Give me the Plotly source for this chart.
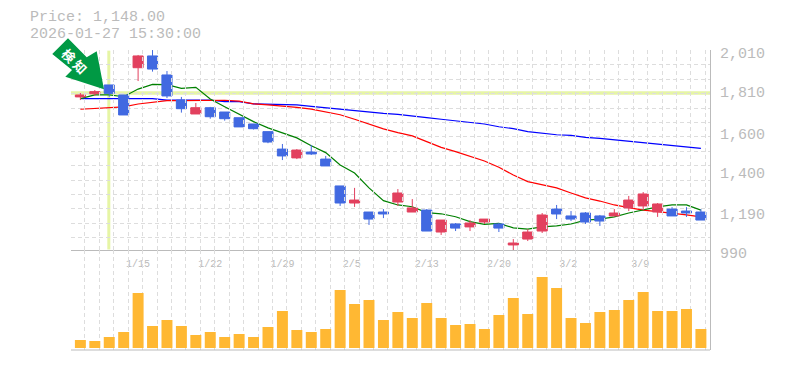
import plotly.graph_objects as go

idx = list(range(44))
opens = [1786,1802,1847,1796,1935,1995,1898,1770,1699,1731,1709,1680,1648,1609,1520,1475,1505,1469,1332,1245,1199,1199,1250,1199,1209,1097,1138,1123,1148,1138,1031,1061,1102,1214,1179,1194,1179,1179,1220,1230,1199,1214,1204,1199]
highs = [1806,1821,1847,1796,2000,2025,1918,1786,1755,1735,1709,1680,1648,1609,1546,1520,1541,1485,1332,1322,1199,1214,1316,1265,1214,1158,1143,1158,1163,1143,1061,1112,1194,1235,1204,1199,1184,1214,1281,1301,1245,1224,1224,1214]
lows = [1770,1791,1787,1694,1867,1915,1780,1706,1699,1675,1665,1633,1620,1550,1464,1469,1490,1434,1230,1225,1133,1168,1230,1199,1102,1082,1102,1102,1138,1097,1005,1051,1092,1163,1153,1138,1128,1179,1204,1209,1174,1179,1174,1158]
closes = [1796,1813,1804,1694,1995,1928,1791,1726,1731,1685,1675,1633,1624,1556,1485,1515,1495,1434,1245,1260,1163,1189,1296,1220,1102,1158,1117,1143,1163,1117,1041,1097,1184,1189,1163,1148,1153,1194,1260,1291,1240,1179,1194,1158]
ma_short = [1777,1796,1796,1787,1826,1850,1849,1830,1835,1775,1736,1699,1660,1628,1602,1577,1537,1502,1439,1398,1322,1257,1235,1226,1196,1190,1175,1150,1136,1141,1118,1112,1123,1128,1138,1158,1163,1174,1194,1209,1225,1235,1235,1209]
ma_mid = [1723,1728,1733,1735,1750,1759,1767,1767,1767,1769,1769,1765,1751,1745,1740,1733,1724,1711,1695,1672,1648,1623,1604,1587,1558,1529,1507,1481,1459,1427,1388,1354,1337,1322,1296,1271,1255,1235,1221,1209,1201,1194,1184,1174]
ma_long = [1777,1777,1777,1777,1777,1777,1770,1770,1770,1770,1762,1762,1751,1748,1745,1745,1738,1731,1721,1716,1708,1702,1697,1690,1680,1672,1663,1655,1648,1634,1624,1609,1600,1593,1590,1580,1575,1568,1561,1556,1547,1539,1532,1524]
volume = [8,7,11,16,55,22,28,22,13,16,11,14,11,21,37,18,16,19,58,44,48,28,36,30,45,30,23,24,19,33,50,34,71,60,30,25,36,38,48,56,37,37,39,19]

y_ticks = [2010,1810,1600,1400,1190,990]
y_labels = ["2,010","1,810","1,600","1,400","1,190","990"]
x_ticks = [4,9,14,18.8,24,29,33.8,38.8]
x_labels = ["1/15","1/22","1/29","2/5","2/13","2/20","3/2","3/9"]
marker_price = 1806
marker_index = 2
title_lines = ["Price: 1,148.00","2026-01-27 15:30:00"]
badge_text = "検 知"

GREY = "#bbbbbb"; GRID = "#dddddd"; HILITE = "#e6f5a5"
MONO = "Liberation Mono"
L, R, T, B = 71, 75, 50, 20
PW, PH = 785-L-R, 370-T-B
px = lambda v: (v-L)/PW
py = lambda v: (350-v)/PH

fig = go.Figure()
for vals, col in [(ma_long,"#0000ff"),(ma_mid,"#ff0000"),(ma_short,"#008000")]:
    fig.add_trace(go.Scatter(x=idx, y=vals, mode="lines", line=dict(color=col, width=1.2),
                             xaxis="x", yaxis="y", hoverinfo="skip", showlegend=False))
fig.add_trace(go.Candlestick(x=idx, open=opens, high=highs, low=lows, close=closes,
    increasing=dict(line=dict(color="#e2405e", width=1), fillcolor="#e2405e"),
    decreasing=dict(line=dict(color="#4169e1", width=1), fillcolor="#4169e1"),
    whiskerwidth=0, xaxis="x", yaxis="y3", showlegend=False))
fig.add_trace(go.Bar(x=idx, y=volume, marker=dict(color="#ffb833", line=dict(width=0)),
                     width=0.76, xaxis="x", yaxis="y2", showlegend=False))
fig.add_trace(go.Scatter(x=[marker_index]*len(y_ticks), y=y_ticks, mode="none", xaxis="x", yaxis="y4",
                         hoverinfo="skip", showlegend=False))

arrow = [(68,38.3),(86.7,57.3),(96.7,51.3),(104,89.3),(65.3,76.7),(72,70),(52.3,54)]
path = "M " + " L ".join(f"{px(a):.4f},{py(b):.4f}" for a,b in arrow) + " Z"
shapes = [
    dict(type="line", xref="x domain", yref="y", x0=0, x1=1, y0=marker_price, y1=marker_price,
         line=dict(color=HILITE, width=3.5), layer="below"),
    dict(type="line", xref="x", yref="y", x0=marker_index-0.03, x1=marker_index-0.03, y0=1008, y1=2022,
         line=dict(color=HILITE, width=3), layer="below"),
    dict(type="line", xref="x domain", yref="y2 domain", x0=0, x1=1, y0=0, y1=0,
         line=dict(color=GREY, width=1), layer="above"),
    dict(type="path", xref="paper", yref="paper", path=path, fillcolor="#009944", line=dict(width=0), layer="above"),
]
annotations = [
    dict(text=title_lines[0], xref="paper", yref="paper", x=px(29), y=py(17.3), xanchor="left", yanchor="middle",
         showarrow=False, borderpad=0, font=dict(family=MONO, size=15, color=GREY)),
    dict(text=title_lines[1], xref="paper", yref="paper", x=px(29), y=py(34), xanchor="left", yanchor="middle",
         showarrow=False, borderpad=0, font=dict(family=MONO, size=15, color=GREY)),
    dict(text=badge_text, xref="paper", yref="paper", x=px(74), y=py(61), xanchor="center", yanchor="middle",
         textangle=45, showarrow=False,
         font=dict(family="Noto Sans CJK JP", size=13, color="white", weight="bold")),
]
fig.update_layout(
    width=785, height=370, margin=dict(l=L, r=R, t=T, b=B), autosize=False,
    paper_bgcolor="white", plot_bgcolor="rgba(0,0,0,0)", showlegend=False,
    boxgap=0, boxgroupgap=0.3, hovermode=False,
    shapes=shapes, annotations=annotations,
    xaxis=dict(domain=[0,1], range=[-0.65,43.63], anchor="y", side="bottom", showgrid=False, zeroline=False,
               automargin=False,
               tickmode="array", tickvals=x_ticks, ticktext=x_labels, ticks="", ticklabelstandoff=4,
               tickfont=dict(family=MONO, size=10, color=GREY), showline=True, linecolor=GREY, linewidth=1,
               rangeslider=dict(visible=False),
               minor=dict(tick0=-0.69, dtick=1, showgrid=True, gridcolor=GRID, griddash="4px,3px", gridwidth=1, ticks="")),
    yaxis=dict(domain=[py(250),1], range=[1005.3,2025.3], side="right", anchor="x", zeroline=False, showgrid=True,
               automargin=False, tick0=1068, dtick=73.5, gridcolor=GRID, griddash="4px,3px", gridwidth=1,
               showticklabels=False, ticks="", showline=False),
    yaxis3=dict(overlaying="y", range=[1005.3,2025.3], side="right", visible=False, automargin=False),
    yaxis4=dict(domain=[py(253.5),1], range=[987.45,2025.3], side="right", anchor="x", zeroline=False, showgrid=False,
                automargin=False, tickmode="array", tickvals=y_ticks, ticktext=y_labels, ticks="", ticklabelstandoff=6,
                tickfont=dict(family=MONO, size=15, color=GREY), showline=True, linecolor=GREY, linewidth=1),
    yaxis2=dict(domain=[0,py(250)], range=[-2,98], side="right", anchor="x", showgrid=False, zeroline=False,
                automargin=False, showticklabels=False, ticks="", showline=True, linecolor=GREY, linewidth=1),
)
fig.write_html("out.html", post_script="document.body.style.margin='0';", config={"displayModeBar": False})
